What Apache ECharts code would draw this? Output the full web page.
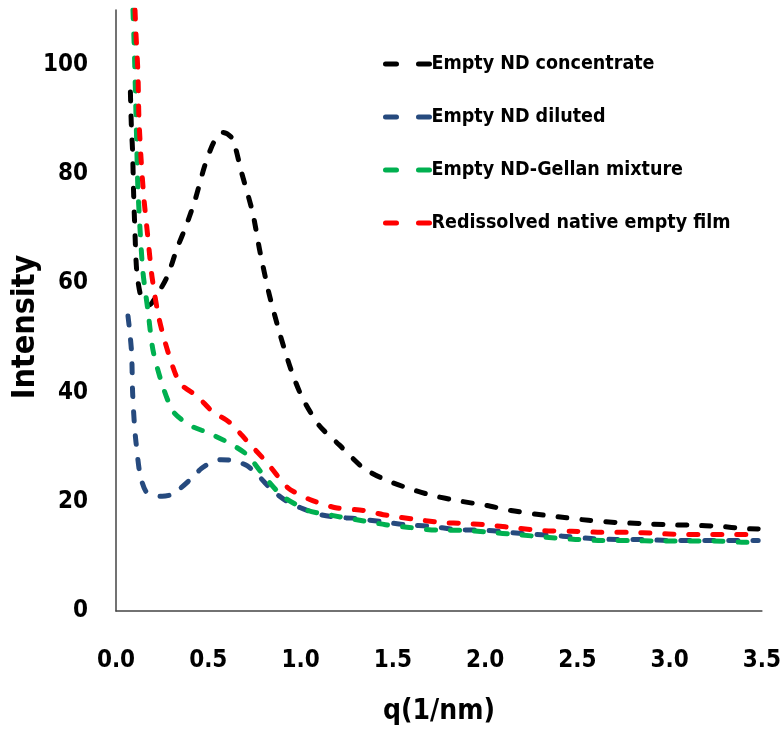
<!DOCTYPE html>
<html>
<head>
<meta charset="utf-8">
<script src="https://cdn.jsdelivr.net/npm/echarts@6/dist/echarts.min.js"></script>
<style>
html,body{margin:0;padding:0;background:#fff;}
#chart{width:784px;height:731px;}
</style>
</head>
<body>
<div id="chart"></div>
<script>
var FONT = '"DejaVu Sans Condensed", "Liberation Sans Narrow", "Liberation Sans", sans-serif';

var seriesNames = ['Empty ND concentrate', 'Empty ND diluted', 'Empty ND-Gellan mixture', 'Redissolved native empty film'];
var seriesColors = ['#000000', '#264a7e', '#00b050', '#ff0000'];

var xTicks = [0.0, 0.5, 1.0, 1.5, 2.0, 2.5, 3.0, 3.5];
var yTicks = [0, 20, 40, 60, 80, 100];

var concQ = [0.078,0.083,0.09,0.095,0.102,0.113,0.14,0.18,0.22,0.28,0.33,0.38,0.43,0.48,0.53,0.58,0.63,0.68,0.74,0.78,0.83,0.89,0.95,1.01,1.10,1.21,1.34,1.46,1.59,1.72,1.85,2.01,2.14,2.28,2.43,2.56,2.71,2.85,2.98,3.12,3.27,3.40,3.48];
var concI = [95,89,84,77,70,62,57,56,57.7,61.4,66.3,70.5,75.4,81.4,85.8,87.6,86.5,80.3,73,65.8,58,50.5,44,39,34,30.4,26.2,24,22.4,21.1,20.2,19.3,18.4,17.7,17.1,16.6,16.2,16.0,15.8,15.7,15.5,15.1,15.0];

var dilQ = [0.065,0.075,0.085,0.09,0.1,0.108,0.13,0.16,0.2,0.25,0.3,0.35,0.4,0.46,0.51,0.57,0.64,0.71,0.77,0.85,0.92,1.0,1.1,1.21,1.28,1.43,1.57,1.71,1.84,2.0,2.13,2.28,2.42,2.56,2.71,2.85,3.0,3.14,3.28,3.48];
var dilI = [54,51,47,40,34,31,25,22,21.2,21,21.3,22.5,24,26,27.1,27.7,27.5,26.6,24.8,22,20.2,18.9,17.7,17.1,17.0,16.4,15.8,15.5,14.9,14.8,14.4,14.0,13.7,13.3,13.1,13.1,12.9,12.9,12.9,12.9];

var gelQ = [0.092,0.1,0.106,0.112,0.118,0.13,0.146,0.173,0.2,0.25,0.31,0.4,0.5,0.61,0.71,0.8,0.9,1.04,1.17,1.32,1.46,1.59,1.74,1.87,2.02,2.17,2.33,2.49,2.63,2.79,2.94,3.09,3.24,3.39,3.48];
var gelI = [110,102,94,86,78,70,62,55,47.8,41.5,36.5,34,32.6,30.8,28.6,24.8,21.1,18.4,17.5,16.6,15.8,15.3,14.8,14.8,14.4,14.0,13.5,13.1,12.9,12.9,12.8,12.8,12.8,12.6,12.6];

var filmQ = [0.103,0.108,0.119,0.124,0.135,0.151,0.173,0.195,0.232,0.281,0.346,0.44,0.52,0.62,0.71,0.82,0.93,1.05,1.19,1.34,1.47,1.62,1.76,1.90,2.03,2.19,2.32,2.47,2.63,2.78,2.93,3.06,3.20,3.34,3.48];
var filmI = [110,105.8,98.4,90.5,83.2,75.6,68.3,61.2,53.7,47.5,41.7,39.3,36.6,34.4,31.1,27.1,22.6,20.4,18.9,18.4,17.5,16.8,16.2,16.0,15.7,15.1,14.7,14.6,14.4,14.4,14.2,14.0,14.0,14.0,14.0];

function pairs(q, v) {
  var out = [];
  for (var i = 0; i < q.length; i++) out.push([q[i], v[i]]);
  return out;
}
var allQ = [concQ, dilQ, gelQ, filmQ];
var allI = [concI, dilI, gelI, filmI];

var series = seriesNames.map(function (name, k) {
  return {
    name: name,
    type: 'line',
    symbol: 'none',
    smooth: 0.25,
    clip: true,
    data: pairs(allQ[k], allI[k]),
    lineStyle: { color: seriesColors[k], width: 5, type: [9, 15], cap: 'round', join: 'round' },
    itemStyle: { color: seriesColors[k] }
  };
});

var chart = echarts.init(document.getElementById('chart'), null, { renderer: 'canvas' });
chart.setOption({
  animation: false,
  backgroundColor: '#ffffff',
  grid: { left: 116, right: 21, top: 10, bottom: 117, containLabel: false },
  xAxis: {
    type: 'value',
    min: 0, max: 3.5, interval: 0.5,
    name: 'q(1/nm)',
    nameLocation: 'middle',
    nameGap: 87,
    nameTextStyle: { fontFamily: FONT, fontWeight: 'bold', fontSize: 28, color: '#000' },
    axisLine: { show: true, lineStyle: { color: '#444', width: 1.5 } },
    axisTick: { show: false },
    splitLine: { show: false },
    axisLabel: {
      margin: 38, fontFamily: FONT, fontWeight: 'bold', fontSize: 24, color: '#000',
      formatter: function (v) { return v.toFixed(1); }
    }
  },
  yAxis: {
    type: 'value',
    min: 0, max: 110, interval: 20,
    axisLine: { show: true, lineStyle: { color: '#444', width: 1.5 } },
    axisTick: { show: false },
    splitLine: { show: false },
    axisLabel: {
      margin: 28, fontFamily: FONT, fontWeight: 'bold', fontSize: 24, color: '#000',
      showMaxLabel: false,
      formatter: function (v) { return yTicks.indexOf(v) >= 0 ? String(v) : ''; }
    }
  },
  legend: {
    orient: 'vertical',
    left: 378, top: 47,
    itemWidth: 46, itemHeight: 24, itemGap: 29,
    data: seriesNames,
    itemStyle: { color: 'rgba(0,0,0,0)', borderColor: 'rgba(0,0,0,0)', borderWidth: 0 },
    lineStyle: { width: 5, type: [11, 22], cap: 'round' },
    textStyle: { fontFamily: FONT, fontWeight: 'bold', fontSize: 19.5, lineHeight: 24, color: '#000', padding: [0,0,0,-5] }
  },
  graphic: [{
    type: 'text',
    x: 26, y: 327,
    rotation: Math.PI / 2,
    style: { text: 'Intensity', fontFamily: FONT, fontWeight: 'bold', fontSize: 32, fill: '#000', align: 'center', verticalAlign: 'middle' }
  }],
  series: series
});
</script>
</body>
</html>
